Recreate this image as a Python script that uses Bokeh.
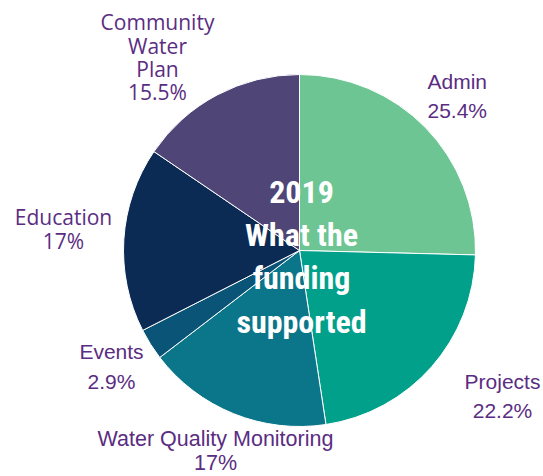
import math
from bokeh.plotting import figure
from bokeh.models import Range1d, ColumnDataSource
from bokeh.core.properties import value
from bokeh.embed import file_html
from bokeh.resources import INLINE

# ---- data ----
categories = ["Admin", "Projects", "Water Quality Monitoring", "Events", "Education", "Community Water Plan"]
percent = [25.4, 22.2, 17.0, 2.9, 17.0, 15.5]
pct_labels = ["25.4%", "22.2%", "17%", "2.9%", "17%", "15.5%"]
colors = ["#6cc592", "#00a08b", "#0b7589", "#0a5577", "#0b2b55", "#4f4577"]
title_lines = ["2019", "What the", "funding", "supported"]

W, H = 543, 476
TEXT_SHIFT = 7
def px(sx):
    return sx
def py(sy):
    return H - sy
def ty(sy):
    return H - (sy - TEXT_SHIFT)

p = figure(width=W, height=H, output_backend="svg", toolbar_location=None,
           x_range=Range1d(0, W), y_range=Range1d(0, H), min_border=0)
p.axis.visible = False
p.grid.visible = False
p.outline_line_color = None
p.background_fill_color = "white"

# pie geometry (screen px)
cx, cy, r = 299, 250, 176
total = sum(percent)
starts, ends = [], []
acc = 0.0
for v in percent:
    a0 = math.pi / 2 - 2 * math.pi * acc / total
    acc += v
    a1 = math.pi / 2 - 2 * math.pi * acc / total
    starts.append(a0)
    ends.append(a1)

src = ColumnDataSource(dict(start=starts, end=ends, color=colors, cat=categories))
p.wedge(x=px(cx), y=py(cy), radius=r, radius_units="screen", start_angle="start", end_angle="end",
        direction="clock", fill_color="color", line_color="white", line_width=1, source=src)

label_color = "#5a2d82"

# labels: (lines, x center/left, baselines, align, font, size)
label_specs = [
    ([categories[0], pct_labels[0]], 427, [88, 117], "left", "Liberation Sans", "21px"),
    ([categories[1], pct_labels[1]], 502, [388, 417], "center", "Liberation Sans", "21px"),
    ([categories[2], pct_labels[2]], 215, [445, 469], "center", "Liberation Sans", "21.5px"),
    ([categories[3], pct_labels[3]], 111, [358, 388], "center", "Liberation Sans", "21px"),
    ([categories[4], pct_labels[4]], 63, [223, 247], "center", "Open Sans", "21px"),
    (["Community", "Water", "Plan", pct_labels[5]], 157, [28, 52, 75, 98], "center", "Open Sans", "21px"),
]
for lines, x, bls, align, font, size in label_specs:
    p.text(x=[px(x)] * len(lines), y=[ty(b) for b in bls], text=lines,
           text_color=label_color, text_font=value(font), text_font_size=size,
           text_align=align, text_baseline="alphabetic")

# center title
title_bl = [198, 241, 284, 328]
p.text(x=[px(301)] * 4, y=[ty(b) for b in title_bl], text=title_lines,
       text_color="white", text_font=value("'Roboto Condensed', 'DejaVu Sans Condensed', Lato"),
       text_font_style="bold", text_font_size="32px", text_align="center", text_baseline="alphabetic")

open("out.html", "w").write(file_html(p, INLINE))
